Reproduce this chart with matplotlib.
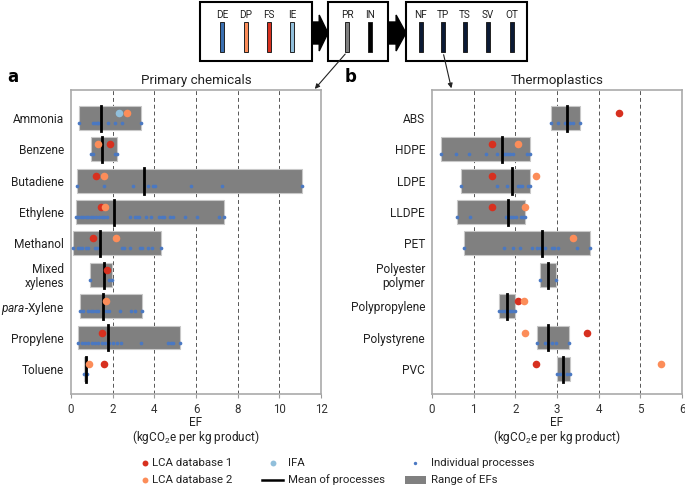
import matplotlib.pyplot as plt
import numpy as np
from matplotlib.patches import Rectangle, Polygon, FancyArrowPatch

plt.rcParams['font.family'] = ['Roboto', 'DejaVu Sans']
plt.rcParams['font.size'] = 8.5
plt.rcParams['mathtext.fontset'] = 'custom'
plt.rcParams['mathtext.rm'] = 'Roboto'
plt.rcParams['mathtext.it'] = 'Roboto:italic'

# ---- data: primary chemicals ----
chem_names = ['Ammonia', 'Benzene', 'Butadiene', 'Ethylene', 'Methanol',
              'Mixed\nxylenes', '$\\mathit{para}$-Xylene', 'Propylene', 'Toluene']
chem_mean = [1.46, 1.49, 3.5, 2.08, 1.38, 1.6, 1.52, 1.78, 0.72]
chem_lca1 = [None, 1.89, 1.22, 1.46, 1.07, 1.71, None, 1.5, 1.58]
chem_lca2 = [2.7, 1.3, 1.58, 1.63, 2.14, None, 1.68, None, 0.86]
chem_ifa = [2.32, None, None, None, None, None, None, None, None]
chem_proc = [
    [0.37, 1.07, 1.15, 1.23, 1.31, 1.39, 1.76, 2.11, 2.45, 3.38],
    [0.94, 1.04, 2.13, 2.22],
    [0.27, 1.57, 2.98, 3.68, 3.95, 4.03, 5.74, 7.26, 11.07],
    [0.24, 0.35, 0.46, 0.59, 0.72, 0.83, 0.94, 1.07, 1.2, 1.33, 1.47, 1.6, 1.74,
     2.83, 3.07, 3.18, 3.28, 3.58, 3.84, 4.24, 4.35, 4.45, 4.77, 4.88, 5.49,
     6.05, 7.1, 7.34],
    [0.08, 0.32, 0.43, 0.53, 0.72, 0.83, 1.15, 1.26, 2.45, 2.56, 2.85, 3.31,
     3.42, 3.71, 3.89, 4.3],
    [0.91, 1.84, 1.95],
    [0.45, 0.56, 0.83, 0.94, 1.07, 1.18, 1.28, 1.6, 1.71, 1.84, 2.35, 2.86,
     3.07, 3.42],
    [0.35, 0.51, 0.67, 0.83, 0.99, 1.15, 1.31, 1.47, 1.63, 1.82, 2.03, 2.19,
     2.4, 3.34, 4.64, 4.78, 4.88, 5.23],
    [0.64, 0.78],
]

# ---- data: thermoplastics ----
tp_names = ['ABS', 'HDPE', 'LDPE', 'LLDPE', 'PET', 'Polyester\npolymer',
            'Polypropylene', 'Polystyrene', 'PVC']
tp_mean = [3.23, 1.69, 1.91, 1.82, 2.65, 2.78, 1.8, 2.79, 3.15]
tp_lca1 = [4.49, 1.45, 1.45, 1.45, None, None, 2.06, 3.73, 2.5]
tp_lca2 = [None, 2.06, 2.5, 2.22, 3.38, None, 2.21, 2.22, 5.49]
tp_ifa = [None] * 9
tp_proc = [
    [2.85, 3.02, 3.18, 3.32, 3.38, 3.56],
    [0.22, 0.58, 0.88, 1.29, 1.56, 1.72, 1.78, 1.82, 1.88, 1.94, 2.29, 2.34],
    [0.7, 1.56, 1.8, 2.06, 2.1, 2.16, 2.3, 2.34],
    [0.6, 0.91, 1.78, 1.84, 1.9, 1.95, 2.01, 2.13, 2.18, 2.23],
    [0.76, 1.72, 1.95, 2.1, 2.4, 2.52, 2.6, 2.72, 2.87, 2.92, 3.02, 3.49, 3.78],
    [2.58, 2.98],
    [1.61, 1.67, 1.74, 1.8, 1.86, 1.93, 1.98],
    [2.53, 2.7, 2.78, 2.87, 2.97, 3.29],
    [3.01, 3.08, 3.24, 3.32],
]

c_lca1 = '#d7301f'
c_lca2 = '#fc8d59'
c_ifa = '#91bfdb'
c_proc = '#4a78c2'
c_box = '#808080'
W, H = 685, 487

fig = plt.figure(figsize=(6.85, 4.87), dpi=100)


def px_axes(x0, y0, x1, y1):
    return fig.add_axes([x0 / W, 1 - y1 / H, (x1 - x0) / W, (y1 - y0) / H])


def panel(ax, names, mean, lca1, lca2, ifa, proc, xmax, step):
    for i in range(len(names)):
        p = proc[i]
        ax.add_patch(Rectangle((min(p), i - 0.38), max(p) - min(p), 0.76,
                               facecolor=c_box, edgecolor='#c8c8c8', lw=0.8, zorder=2))
        ax.scatter(p, [i + 0.16] * len(p), s=7, color=c_proc, zorder=4, lw=0)
        ax.plot([mean[i], mean[i]], [i - 0.39, i + 0.41], color='black', lw=2, zorder=5)
        for vals, col in [(lca1, c_lca1), (lca2, c_lca2), (ifa, c_ifa)]:
            if vals[i] is not None:
                ax.scatter([vals[i]], [i - 0.16], s=30, color=col, zorder=6, lw=0)
    ax.set_xlim(0, xmax)
    ax.set_ylim(8.8, -0.89)
    ax.set_yticks(range(len(names)))
    ax.set_yticklabels(names, fontsize=8.6, color='#222222', linespacing=1.1)
    ax.tick_params(axis='y', length=0, pad=5)
    ax.set_xticks(np.arange(0, xmax + step, step))
    ax.tick_params(axis='x', length=3, color='#999999', labelcolor='#333333', labelsize=8.3)
    for t in np.arange(step, xmax, step):
        ax.axvline(t, color='#555555', lw=0.7, ls=(0, (4, 3)), zorder=1)
    for s in ax.spines.values():
        s.set_color('#aaaaaa')
        s.set_linewidth(1.2)


ax1 = px_axes(71, 90, 321, 394)
panel(ax1, chem_names, chem_mean, chem_lca1, chem_lca2, chem_ifa, chem_proc, 12, 2)
ax1.set_title('Primary chemicals', fontsize=9.6, color='#222222', pad=4)

ax2 = px_axes(432, 90, 682, 394)
panel(ax2, tp_names, tp_mean, tp_lca1, tp_lca2, tp_ifa, tp_proc, 6, 1)
ax2.set_title('Thermoplastics', fontsize=9.6, color='#222222', pad=4)

# overlay in pixel coordinates for the flow diagram, panel letters, axis labels and legend
ov = fig.add_axes([0, 0, 1, 1], zorder=10)
ov.set_xlim(0, W)
ov.set_ylim(H, 0)
ov.axis('off')
ov.patch.set_alpha(0)

for cx in [196, 557]:
    ov.text(cx, 422, 'EF', ha='center', va='center', fontsize=8.5, color='#222222')
    ov.text(cx, 437, '(kgCO$_2$e per kg product)', ha='center', va='center',
            fontsize=8.5, color='#222222')

ov.text(7, 77, 'a', fontsize=12, fontweight='bold', va='center', family='DejaVu Sans')
ov.text(345, 77, 'b', fontsize=12, fontweight='bold', va='center', family='DejaVu Sans')

boxes = [(200, 312), (328, 388), (406, 527)]
for x0, x1 in boxes:
    ov.add_patch(Rectangle((x0, 2), x1 - x0, 59, fill=False, edgecolor='black', lw=1.5))

flow_labels = ['DE', 'DP', 'FS', 'IE', 'PR', 'IN', 'NF', 'TP', 'TS', 'SV', 'OT']
flow_x = [222, 246, 269, 292, 347, 370, 421, 443, 465, 488, 512]
flow_col = ['#3a6fb0', '#fc8d59', '#d7301f', '#91bfdb', '#808080', '#000000',
            '#0b1a35', '#0b1a35', '#0b1a35', '#0b1a35', '#0b1a35']
for lab, x, col in zip(flow_labels, flow_x, flow_col):
    ov.text(x, 15, lab, ha='center', va='center', fontsize=7.2, color='#222222')
    ov.add_patch(Rectangle((x - 1.8, 22), 3.6, 30, facecolor=col, edgecolor='#222222', lw=0.7))

for xs in [(312, 328), (388, 406)]:
    a, b = xs
    m = a + (b - a) * 0.45
    ov.add_patch(Polygon([(a, 22), (m, 22), (m, 15), (b, 33), (m, 51), (m, 44), (a, 44)],
                         closed=True, facecolor='black', edgecolor='black'))

ov.add_patch(FancyArrowPatch((347, 52), (313, 91), arrowstyle='-|>', mutation_scale=7,
                             color='#222222', lw=0.8))
ov.add_patch(FancyArrowPatch((443, 52), (452, 91), arrowstyle='-|>', mutation_scale=7,
                             color='#222222', lw=0.8))

# legend
r1, r2 = 463, 480
fs = 8.2
ov.scatter([145], [r1], s=18, color=c_lca1, lw=0)
ov.text(152, r1, 'LCA database 1', va='center', fontsize=fs, color='#222222')
ov.scatter([145], [r2], s=18, color=c_lca2, lw=0)
ov.text(152, r2, 'LCA database 2', va='center', fontsize=fs, color='#222222')
ov.scatter([273], [r1], s=18, color=c_ifa, lw=0)
ov.text(288, r1, 'IFA', va='center', fontsize=fs, color='#222222')
ov.plot([262, 283], [r2, r2], color='black', lw=1.8)
ov.text(288, r2, 'Mean of processes', va='center', fontsize=fs, color='#222222')
ov.scatter([415], [r1], s=6, color=c_proc, lw=0)
ov.text(431, r1, 'Individual processes', va='center', fontsize=fs, color='#222222')
ov.add_patch(Rectangle((405, r2 - 4), 21, 8, facecolor=c_box, edgecolor='none'))
ov.text(431, r2, 'Range of EFs', va='center', fontsize=fs, color='#222222')

fig.savefig('out.png', dpi=100)
